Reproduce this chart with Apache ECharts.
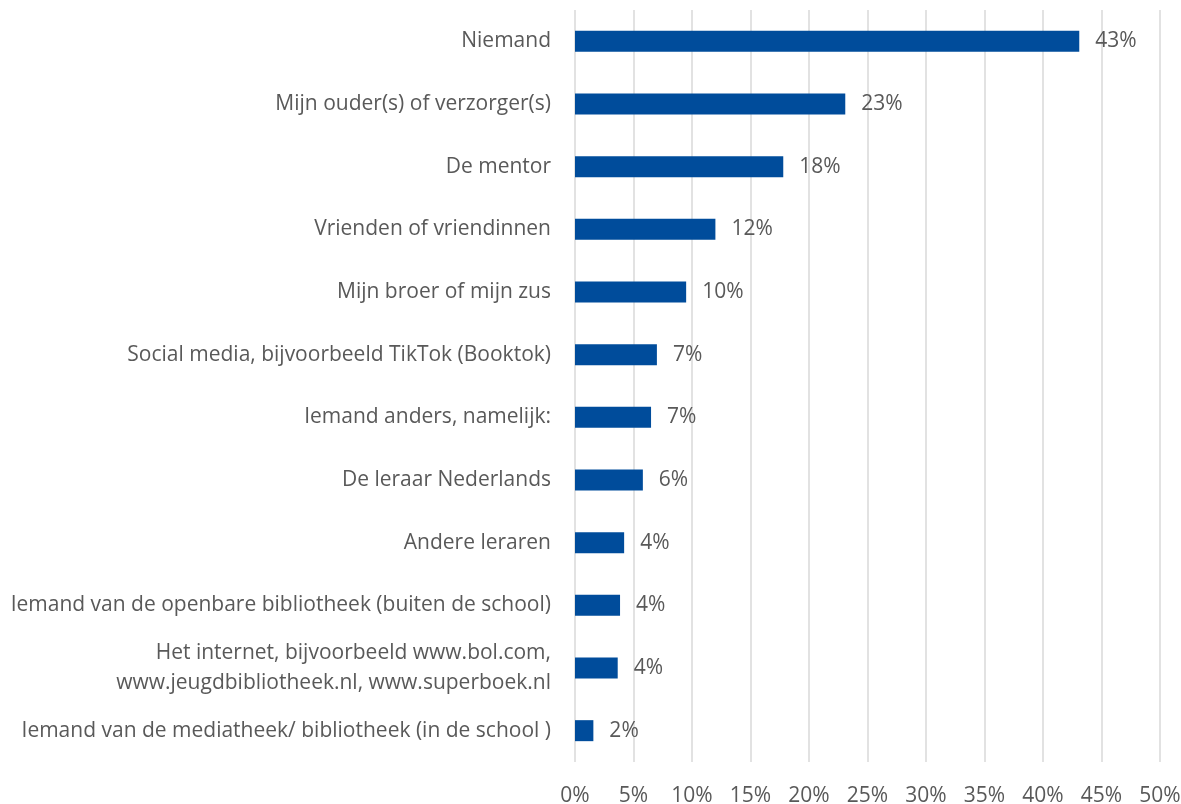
<!DOCTYPE html>
<html><head><meta charset="utf-8">
<script src="https://cdn.jsdelivr.net/npm/echarts@6/dist/echarts.min.js"></script>
<style>html,body{margin:0;padding:0;background:#fff}#c{width:1181px;height:804px}</style>
</head><body><div id="c"></div>
<script>
const categories = [
  "Niemand",
  "Mijn ouder(s) of verzorger(s)",
  "De mentor",
  "Vrienden of vriendinnen",
  "Mijn broer of mijn zus",
  "Social media, bijvoorbeeld TikTok (Booktok)",
  "Iemand anders, namelijk:",
  "De leraar Nederlands",
  "Andere leraren",
  "Iemand van de openbare bibliotheek (buiten de school)",
  "Het internet, bijvoorbeeld www.bol.com,\nwww.jeugdbibliotheek.nl, www.superboek.nl",
  "Iemand van de mediatheek/ bibliotheek (in de school )"
];
const values = [43.1, 23.1, 17.8, 12.0, 9.5, 7.0, 6.5, 5.8, 4.2, 3.85, 3.65, 1.57];
const valueLabels = ["43%", "23%", "18%", "12%", "10%", "7%", "7%", "6%", "4%", "4%", "4%", "2%"];
const xTicks = { min: 0, max: 50, interval: 5 };

const FONT = '"Open Sans", sans-serif';
const FS = 21;
const chart = echarts.init(document.getElementById('c'), null, { renderer: 'canvas' });
chart.setOption({
  animation: false,
  grid: { left: 575, right: 21, top: 10, bottom: 42, containLabel: false, outerBoundsMode: 'none' },
  xAxis: {
    type: 'value', min: xTicks.min, max: xTicks.max, interval: xTicks.interval,
    axisLine: { show: false }, axisTick: { show: false },
    splitLine: { show: true, lineStyle: { color: '#d9d9d9', width: 1.5 } },
    axisLabel: { formatter: v => v + '%', color: '#595959', fontSize: FS, fontFamily: FONT, margin: 24 }
  },
  yAxis: {
    type: 'category', data: categories, inverse: true,
    axisLine: { show: false }, axisTick: { show: false },
    axisLabel: { color: '#595959', fontSize: FS, fontFamily: FONT, margin: 24, align: 'right', lineHeight: 30 }
  },
  series: [{
    type: 'bar', data: values, barWidth: 21,
    itemStyle: { color: '#004C9B' },
    label: {
      show: true, position: 'right', distance: 16,
      formatter: p => valueLabels[p.dataIndex],
      color: '#595959', fontSize: FS, fontFamily: FONT
    }
  }]
});
</script></body></html>
